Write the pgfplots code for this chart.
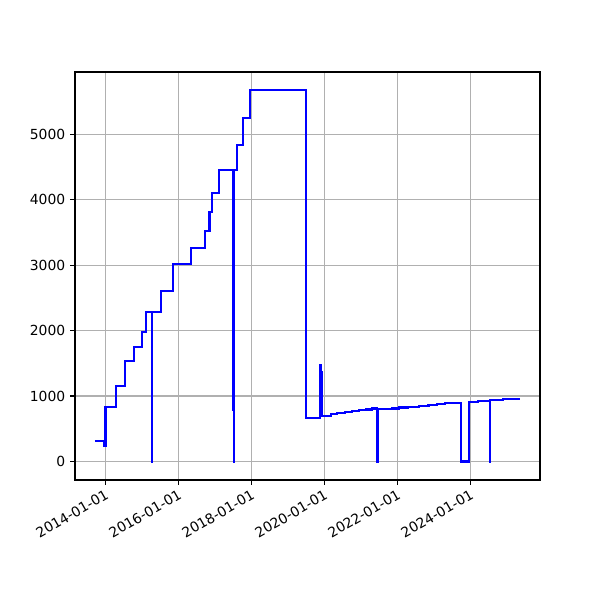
\documentclass[border=0pt]{standalone}
\usepackage{fontspec}
\setmainfont{DejaVu Sans}
\usepackage{pgfplots}
\pgfplotsset{compat=1.18}
\definecolor{gridgray}{HTML}{B0B0B0}
\begin{document}
\begin{tikzpicture}
\path (0,0) rectangle (432pt,432pt);
\begin{axis}[
  at={(54pt,86.4pt)}, anchor=south west,
  scale only axis, width=334.8pt, height=293.8pt,
  xmin=2013.164, xmax=2025.904, ymin=-283, ymax=5953,
  xtick={2014,2016,2018,2020,2022,2024},
  xticklabels={2014-01-01,2016-01-01,2018-01-01,2020-01-01,2022-01-01,2024-01-01},
  xticklabel style={rotate=30, anchor=north east, inner sep=2pt},
  ytick={0,1000,2000,3000,4000,5000},
  scaled y ticks=false,
  yticklabel style={/pgf/number format/1000 sep={}},
  /pgf/number format/assume math mode=true,
  tick label style={font=\fontsize{10}{12}\selectfont},
  grid=major,
  major grid style={gridgray, line width=0.8pt},
  tick align=outside, tick pos=left,
  major tick length=3.5pt,
  every tick/.style={black, line width=0.8pt},
  axis line style={black, line width=0.8pt},
]
\addplot[const plot, blue, line width=1.5pt, mark=none] coordinates {
(2013.71,310)
(2013.97,240)
(2014.00,830)
(2014.29,1150)
(2014.53,1530)
(2014.77,1745)
(2015.00,1985)
(2015.10,2280)
(2015.27,0)
(2015.28,2280)
(2015.51,2612)
(2015.84,3016)
(2016.34,3256)
(2016.72,3517)
(2016.85,3814)
(2016.92,4110)
(2017.10,4458)
(2017.49,780)
(2017.495,4458)
(2017.515,0)
(2017.525,4458)
(2017.61,4836)
(2017.76,5256)
(2017.96,5680)
(2019.49,660)
(2019.88,1472)
(2019.90,1370)
(2019.93,690)
(2020.18,720)
(2020.35,735)
(2020.55,750)
(2020.75,765)
(2020.95,780)
(2021.15,795)
(2021.30,810)
(2021.45,0)
(2021.455,800)
(2021.85,810)
(2022.05,825)
(2022.30,835)
(2022.60,850)
(2022.85,865)
(2023.07,880)
(2023.30,890)
(2023.73,0)
(2023.97,910)
(2024.21,930)
(2024.53,0)
(2024.535,946)
(2024.90,955)
(2025.34,966)
};
\end{axis}
\end{tikzpicture}
\end{document}
